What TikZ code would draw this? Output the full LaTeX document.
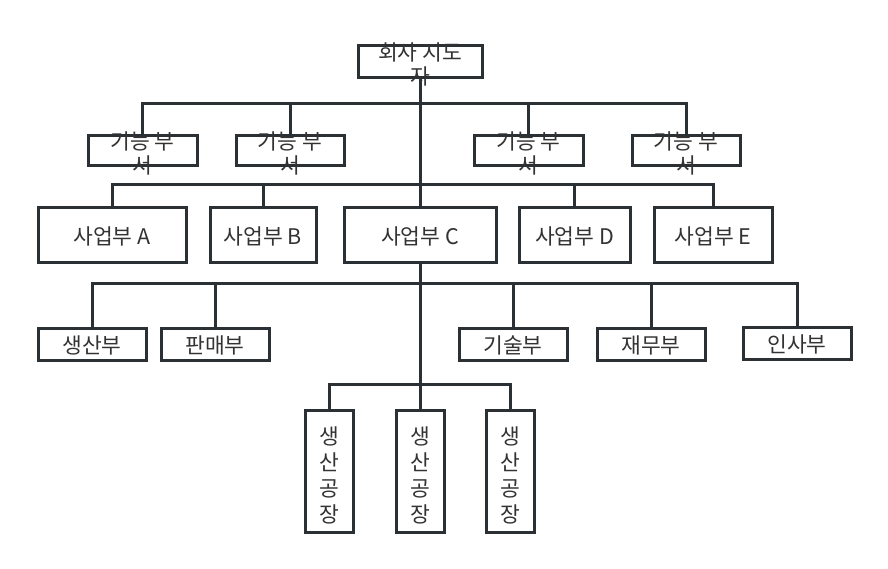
\documentclass[tikz,border=0pt]{standalone}
\usepackage{fontspec}
\setmainfont{Noto Sans CJK KR}
\definecolor{ln}{HTML}{2B3035}
\definecolor{tx}{HTML}{333333}
\tikzset{
  box/.style={draw=ln, line width=3pt, rectangle, inner sep=0pt, fill=white},
  lbl/.style={text=tx, font=\fontsize{21.5}{24}\selectfont, align=center, inner sep=0pt},
  vlbl/.style={text=tx, font=\fontsize{21.5}{26}\selectfont, align=center, inner sep=0pt},
  conn/.style={draw=ln, line width=3pt}
}
\begin{document}
\begin{tikzpicture}[x=1pt,y=-1pt]
\useasboundingbox (0,0) rectangle (888,569);
% boxes
\node[box, minimum width=124pt, minimum height=32pt] (top) at (420,62) {};
\node[box, minimum width=109pt, minimum height=30pt] (f1) at (142.5,151) {};
\node[box, minimum width=108pt, minimum height=30pt] (f2) at (290,151) {};
\node[box, minimum width=109pt, minimum height=30pt] (f3) at (528.5,151) {};
\node[box, minimum width=108pt, minimum height=30pt] (f4) at (686,151) {};
\node[box, minimum width=148pt, minimum height=54pt] (ba) at (112,235) {};
\node[box, minimum width=106pt, minimum height=54pt] (bb) at (263,235) {};
\node[box, minimum width=152pt, minimum height=54pt] (bc) at (420,235) {};
\node[box, minimum width=111pt, minimum height=54pt] (bd) at (574.5,235) {};
\node[box, minimum width=118pt, minimum height=54pt] (be) at (713,235) {};
\node[box, minimum width=108pt, minimum height=32pt] (d1) at (92,344) {};
\node[box, minimum width=108pt, minimum height=32pt] (d2) at (215,344) {};
\node[box, minimum width=108pt, minimum height=32pt] (d3) at (513,344) {};
\node[box, minimum width=108pt, minimum height=32pt] (d4) at (651,344) {};
\node[box, minimum width=108pt, minimum height=32pt] (d5) at (797,343) {};
\node[box, minimum width=48pt, minimum height=122pt] (p1) at (329,471) {};
\node[box, minimum width=48pt, minimum height=122pt] (p2) at (420,471) {};
\node[box, minimum width=48pt, minimum height=122pt] (p3) at (510,471) {};
% junctions
\coordinate (j1) at (420,104);
\coordinate (j2) at (420,185);
\coordinate (j3) at (420,283);
\coordinate (j4) at (420,384);
% connectors
\draw[conn] (top.south) -- (bc.north);
\draw[conn] (f1.north) |- (j1) -| (f4.north);
\draw[conn] (f2.north) -- (f2.north |- j1);
\draw[conn] (f3.north) -- (f3.north |- j1);
\draw[conn] (ba.north) |- (j2) -| (be.north);
\draw[conn] (bb.north) -- (bb.north |- j2);
\draw[conn] (bd.north) -- (bd.north |- j2);
\draw[conn] (bc.south) -- (p2.north);
\draw[conn] (d1.north) |- (j3) -| (d5.north);
\draw[conn] (d2.north) -- (d2.north |- j3);
\draw[conn] (d3.north) -- (d3.north |- j3);
\draw[conn] (d4.north) -- (d4.north |- j3);
\draw[conn] (p1.north) |- (j4) -| (p3.north);
% labels
\node[lbl] (ltop) at (420,64) {회사 지도\\자};
\node[lbl] (lf1) at (142.5,153) {기능 부\\서};
\node[lbl] (lf2) at (290,153) {기능 부\\서};
\node[lbl] (lf3) at (528.5,153) {기능 부\\서};
\node[lbl] (lf4) at (686,153) {기능 부\\서};
\node[lbl] (lba) at (112,236) {사업부 A};
\node[lbl] (lbb) at (263,236) {사업부 B};
\node[lbl] (lbc) at (420,236) {사업부 C};
\node[lbl] (lbd) at (574.5,236) {사업부 D};
\node[lbl] (lbe) at (713,236) {사업부 E};
\node[lbl] (ld1) at (92,345) {생산부};
\node[lbl] (ld2) at (215,345) {판매부};
\node[lbl] (ld3) at (513,345) {기술부};
\node[lbl] (ld4) at (651,345) {재무부};
\node[lbl] (ld5) at (797,344) {인사부};
\node[vlbl] (lp1) at (329,475) {생\\산\\공\\장};
\node[vlbl] (lp2) at (420,475) {생\\산\\공\\장};
\node[vlbl] (lp3) at (510,475) {생\\산\\공\\장};
\end{tikzpicture}
\end{document}
